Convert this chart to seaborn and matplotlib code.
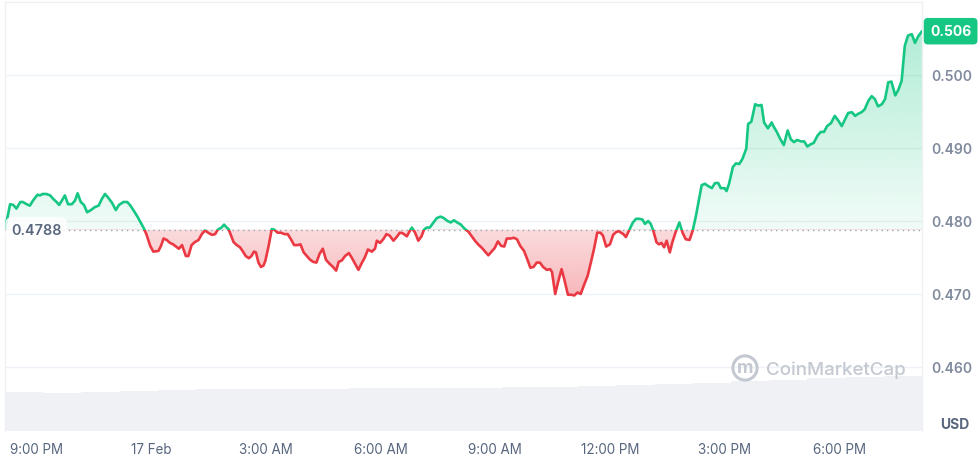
import numpy as np
import pandas as pd
import matplotlib
matplotlib.use('Agg')
import matplotlib.pyplot as plt
import matplotlib.transforms as mtransforms
from matplotlib.colors import to_rgb
from matplotlib.path import Path
from matplotlib.patches import Rectangle
import seaborn as sns

# price readings: minutes after 16 Feb 20:10, price in USD
minutes = [
    0, 8, 13, 18, 24, 28, 34, 39, 44, 51, 55, 59, 65, 71, 76, 81, 85, 90, 94, 99,
    105, 110, 114, 119, 124, 129, 135, 141, 147, 152, 157, 162, 168, 174, 179, 186, 192, 197, 203, 208,
    213, 218, 222, 228, 233,
    241, 245, 249, 254, 259, 264, 270, 273, 278, 284, 288, 293, 298, 304, 309, 314, 319, 325, 330, 334,
    340, 344, 348, 351, 355, 359, 364, 369, 373, 378, 383, 387, 391, 394, 398, 402, 406, 409, 414, 419,
    423, 428, 433, 439, 444, 449, 454, 460, 464, 469, 474, 479,
    484, 489, 494, 499, 504, 509, 515, 520, 524, 529, 534, 540, 545, 550, 555, 560, 565, 570, 576, 581,
    584, 589, 594, 599, 604, 610, 615, 620, 625, 631, 636, 639, 644, 649, 654, 658, 662, 667, 673, 678,
    684, 689, 695, 700, 705, 710, 716, 721,
    728, 733, 738, 743, 749, 754, 759, 764, 769, 774, 779, 784, 788, 794, 799, 804, 809, 815, 820, 825,
    830, 835, 840, 845, 851, 856, 859, 864, 869, 874, 878, 884, 889, 894, 899, 904, 910, 915, 920, 925,
    930, 935, 939, 944, 950, 955, 960, 964,
    971, 975, 980, 986, 991, 996, 1001, 1005, 1010, 1014, 1018, 1023, 1027, 1031, 1035, 1039, 1044, 1048,
    1054, 1059, 1064, 1069, 1075, 1080, 1085, 1090, 1094, 1099, 1104, 1110, 1115, 1120, 1124, 1130, 1133,
    1137, 1143, 1148, 1153, 1158, 1164, 1167, 1172, 1178, 1183, 1188, 1192, 1198, 1204,
    1206, 1212, 1217, 1223, 1229, 1234, 1239, 1244, 1250, 1255, 1260, 1265, 1270, 1276, 1281, 1286, 1291,
    1297, 1303, 1309, 1314, 1319, 1324, 1330, 1335, 1340, 1345, 1350, 1356, 1361, 1366, 1371, 1377, 1382,
    1387, 1392, 1398, 1403, 1408, 1413, 1418, 1424, 1429, 1434, 1440,
]
prices = [
    0.4788, 0.4823, 0.4822, 0.4817, 0.4826, 0.4826, 0.4823, 0.4821, 0.4828, 0.4836,
    0.4835, 0.4837, 0.4837, 0.4835, 0.4830, 0.4826, 0.4822, 0.4829, 0.4835, 0.4823,
    0.4823, 0.4828, 0.4838, 0.4826, 0.4822, 0.4812, 0.4815, 0.4819, 0.4821, 0.4830,
    0.4837, 0.4832, 0.4825, 0.4815, 0.4822, 0.4826, 0.4826, 0.4821, 0.4813, 0.4806,
    0.4798, 0.4790, 0.4782, 0.4766, 0.4758,
    0.4759, 0.4766, 0.4776, 0.4774, 0.4770, 0.4768, 0.4764, 0.4762, 0.4767, 0.4752,
    0.4752, 0.4767, 0.4771, 0.4774, 0.4782, 0.4787, 0.4784, 0.4781, 0.4782, 0.4788,
    0.4791, 0.4795, 0.4791, 0.4789, 0.4780, 0.4771, 0.4767, 0.4764, 0.4759, 0.4752,
    0.4749, 0.4752, 0.4758, 0.4757, 0.4743, 0.4737, 0.4739, 0.4746, 0.4766, 0.4789,
    0.4788, 0.4784, 0.4784, 0.4782, 0.4782, 0.4775, 0.4767, 0.4767, 0.4768, 0.4757,
    0.4752, 0.4747,
    0.4744, 0.4743, 0.4755, 0.4762, 0.4747, 0.4742, 0.4737, 0.4732, 0.4744, 0.4746,
    0.4752, 0.4756, 0.4749, 0.4741, 0.4733, 0.4742, 0.4750, 0.4761, 0.4758, 0.4762,
    0.4773, 0.4770, 0.4775, 0.4782, 0.4780, 0.4773, 0.4778, 0.4784, 0.4783, 0.4779,
    0.4787, 0.4791, 0.4784, 0.4773, 0.4779, 0.4788, 0.4791, 0.4791, 0.4798, 0.4804,
    0.4806, 0.4804, 0.4800, 0.4798, 0.4801, 0.4798, 0.4795, 0.4790,
    0.4785, 0.4779, 0.4773, 0.4768, 0.4763, 0.4758, 0.4753, 0.4758, 0.4763, 0.4772,
    0.4766, 0.4765, 0.4776, 0.4776, 0.4777, 0.4775, 0.4766, 0.4759, 0.4748, 0.4736,
    0.4737, 0.4743, 0.4743, 0.4737, 0.4733, 0.4734, 0.4730, 0.4700, 0.4718, 0.4734,
    0.4721, 0.4699, 0.4699, 0.4698, 0.4702, 0.4700, 0.4714, 0.4725, 0.4743, 0.4762,
    0.4784, 0.4784, 0.4780, 0.4765, 0.4768, 0.4781, 0.4785, 0.4786,
    0.4782, 0.4778, 0.4787, 0.4798, 0.4803, 0.4803, 0.4802, 0.4796, 0.4800, 0.4796,
    0.4787, 0.4771, 0.4768, 0.4770, 0.4764, 0.4773, 0.4757, 0.4771, 0.4787, 0.4798,
    0.4784, 0.4775, 0.4774, 0.4787, 0.4807, 0.4830, 0.4849, 0.4851, 0.4848, 0.4845,
    0.4852, 0.4852, 0.4845, 0.4845, 0.4841, 0.4851, 0.4874, 0.4879, 0.4878, 0.4885,
    0.4899, 0.4933, 0.4936, 0.4960, 0.4958, 0.4959, 0.4935, 0.4927, 0.4935,
    0.4931, 0.4922, 0.4913, 0.4904, 0.4924, 0.4912, 0.4908, 0.4911, 0.4909, 0.4909,
    0.4902, 0.4905, 0.4907, 0.4917, 0.4922, 0.4922, 0.4930, 0.4934, 0.4944, 0.4937,
    0.4930, 0.4939, 0.4948, 0.4949, 0.4944, 0.4947, 0.4949, 0.4953, 0.4965, 0.4971,
    0.4967, 0.4957, 0.4960, 0.4967, 0.4990, 0.4991, 0.4972, 0.4980, 0.4992, 0.5040,
    0.5054, 0.5056, 0.5044, 0.5053, 0.5060,
]
# hourly volume (millions USD), first bar starts 20:10
volume = [182, 177, 180, 186, 191, 196, 194, 196, 198, 200, 200, 201,
          202, 203, 205, 210, 214, 219, 224, 233, 238, 247, 252, 256]

open_price = 0.4788
last_label = '0.506'
y_ticks = [0.460, 0.470, 0.480, 0.490, 0.500]
x_ticks = [50, 230, 410, 590, 770, 950, 1130, 1310]
x_labels = ['9:00 PM', '17 Feb', '3:00 AM', '6:00 AM', '9:00 AM', '12:00 PM', '3:00 PM', '6:00 PM']

GREEN = '#16c784'
RED = '#ea3943'
GREY = '#58667e'

sns.set_style('white')
plt.rcParams['font.family'] = ['Inter', 'DejaVu Sans']

df = pd.DataFrame({'minute': minutes, 'price': prices})
vol_df = pd.DataFrame({'hour': range(len(volume)), 'volume': volume})

W, H = 980, 456
fig = plt.figure(figsize=(W / 100, H / 100), dpi=100)
rect = [5 / W, 1 - 432 / H, (922 - 5) / W, (432 - 3) / H]

# volume in the background
axv = fig.add_axes(rect)
sns.barplot(data=vol_df, x='hour', y='volume', color='#eff1f4', width=1.0, saturation=1,
            linewidth=0, ax=axv)
axv.set_xlim(-0.5, len(volume) - 0.5)
axv.set_ylim(0, 2000)
axv.axis('off')

ax = fig.add_axes(rect, facecolor='none')
x = df['minute'].to_numpy(float)
y = df['price'].to_numpy(float)

# gradient areas between the price and the opening price
area = ax.fill_between(x, y, open_price, facecolor='none', edgecolor='none')
clip = Path.make_compound_path(*area.get_paths())


def gradient(color, y0, y1, a0, a1):
    img = np.zeros((256, 1, 4))
    img[..., :3] = to_rgb(color)
    img[:, 0, 3] = np.linspace(a0, a1, 256)
    im = ax.imshow(img, extent=[x.min(), x.max(), y0, y1], origin='lower',
                   aspect='auto', interpolation='bilinear', zorder=1)
    im.set_clip_path(clip, transform=ax.transData)


gradient(GREEN, open_price, y.max(), 0.06, 0.33)
gradient(RED, y.min(), open_price, 0.36, 0.18)

ax.axhline(open_price, color='#9aa3b2', lw=1.0, ls=(0, (1, 2.8)), zorder=2)

# green above the open, red below
for color, lo, hi in [(GREEN, open_price, 1.0), (RED, 0.0, open_price)]:
    sns.lineplot(data=df, x='minute', y='price', color=color, lw=1.9, estimator=None, ax=ax, zorder=3)
    line = ax.lines[-1]
    line.set_solid_joinstyle('round')
    line.set_clip_path(Rectangle((x.min(), lo), x.max() - x.min(), hi - lo, transform=ax.transData))

trans = mtransforms.blended_transform_factory(ax.transAxes, ax.transData)
ax.text(0.0065, open_price, '0.4788', transform=trans, ha='left', va='center', fontsize=10.3,
        color=GREY, fontweight='semibold', zorder=4,
        bbox=dict(boxstyle='round,pad=0.4,rounding_size=0.5', fc=(1, 1, 1, 0.85), ec='none'))
ax.text(1.0 + 8 / 917, prices[-1], last_label, transform=trans, ha='left', va='center', fontsize=10,
        color='white', fontweight='bold', clip_on=False,
        bbox=dict(boxstyle='round,pad=0.45,rounding_size=0.3', fc=GREEN, ec='none'))

ax.set_xlim(0, 1440)
ax.set_ylim(0.45123, 0.5100)
ax.set_xlabel('')
ax.set_ylabel('')

ax.yaxis.tick_right()
ax.set_yticks(y_ticks)
ax.set_yticklabels([f'{t:.3f}' for t in y_ticks])
ax.tick_params(axis='y', length=0, pad=6.5, labelsize=10, labelcolor='#808a9d')
for lab in ax.get_yticklabels():
    lab.set_fontweight('semibold')
ax.set_xticks(x_ticks, x_labels)
ax.tick_params(axis='x', length=0, pad=8, labelsize=9.7, labelcolor=GREY)

ax.grid(axis='y', color='#eef1f5', lw=1)
ax.grid(axis='x', visible=False)
for s in ['top', 'left', 'right']:
    ax.spines[s].set_color('#eef0f3')
    ax.spines[s].set_linewidth(1)
ax.spines['bottom'].set_visible(False)

fig.text(955 / W, 1 - 425 / H, 'USD', ha='center', va='center', fontsize=10,
         fontweight='bold', color=GREY)

# watermark
fig.text(836 / W, 1 - 370 / H, 'CoinMarketCap', ha='center', va='center', fontsize=13.5,
         color='#c3c8d1', fontweight='medium')
fig.text(745 / W, 1 - 369 / H, 'm', ha='center', va='center', fontsize=13, color='#c3c8d1',
         fontweight='bold', bbox=dict(boxstyle='circle,pad=0.2', fc='none', ec='#c3c8d1', lw=2.2))

fig.savefig('out.png', dpi=100)
